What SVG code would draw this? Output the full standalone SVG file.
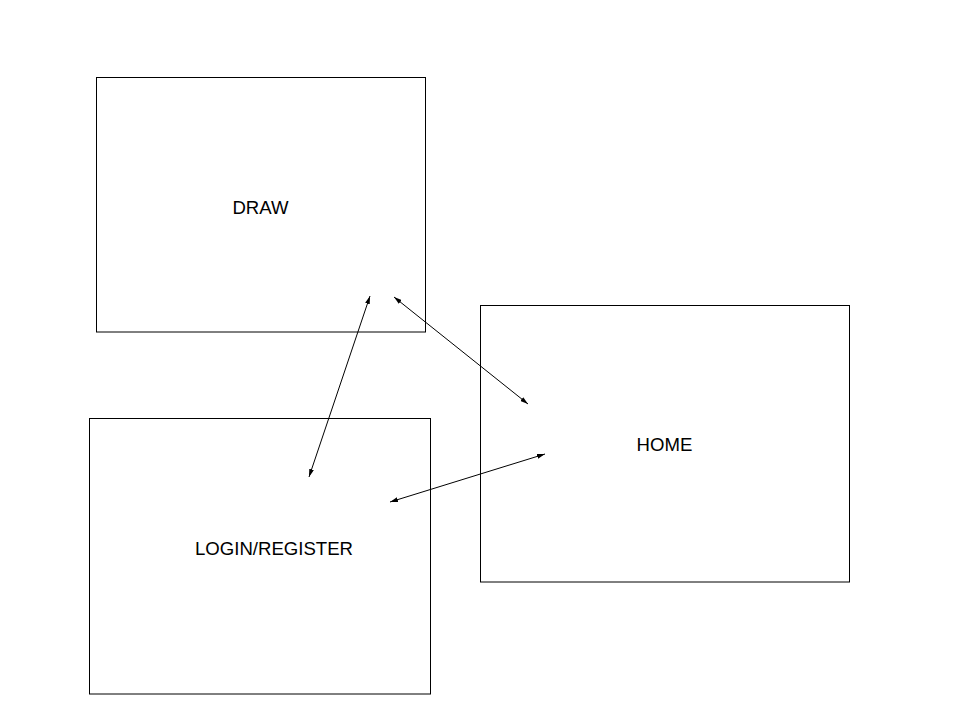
<svg xmlns="http://www.w3.org/2000/svg" width="960" height="720" viewBox="0 0 960 720">
<style>
.box{fill:#fff;stroke:#000;stroke-width:1}
.lbl{font-family:"Liberation Sans",Arial,sans-serif;font-size:18.6px;fill:#000;text-anchor:middle}
.con{stroke:#000;stroke-width:1;fill:none;marker-start:url(#ah);marker-end:url(#ah)}
</style>
<defs>
<marker id="ah" viewBox="0 0 10 6" refX="10" refY="3" markerWidth="8" markerHeight="5" orient="auto-start-reverse" markerUnits="userSpaceOnUse">
<path d="M0,0 L10,3 L0,6 Z" fill="#000"/>
</marker>
</defs>
<rect width="960" height="720" fill="#fff"/>
<g id="draw">
<rect class="box" x="96.5" y="77.5" width="329" height="254.5"/>
<text class="lbl" x="260.5" y="213.5">DRAW</text>
</g>
<g id="login">
<rect class="box" x="89.5" y="418.5" width="341" height="275.5"/>
<text class="lbl" x="274" y="554.5">LOGIN/REGISTER</text>
</g>
<g id="home">
<rect class="box" x="480.5" y="305.5" width="369" height="276.5"/>
<text class="lbl" x="664.5" y="450.5">HOME</text>
</g>
<g id="connectors">
<line class="con" x1="370" y1="296" x2="309" y2="477"/>
<line class="con" x1="394" y1="297" x2="528" y2="404"/>
<line class="con" x1="545" y1="454" x2="390" y2="502"/>
</g>
</svg>
